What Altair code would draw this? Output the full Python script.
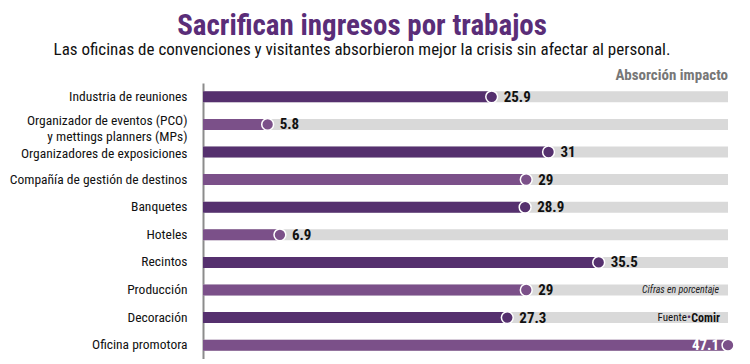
import altair as alt
import pandas as pd

categories = [
    "Industria de reuniones",
    "Organizador de eventos (PCO)|y mettings planners (MPs)",
    "Organizadores de exposiciones",
    "Compañía de gestión de destinos",
    "Banquetes",
    "Hoteles",
    "Recintos",
    "Producción",
    "Decoración",
    "Oficina promotora",
]
values = [25.9, 5.8, 31, 29, 28.9, 6.9, 35.5, 29, 27.3, 47.1]
shades = ["dark", "light", "dark", "light", "dark", "light", "dark", "light", "dark", "light"]

TITLE = "Sacrifican ingresos por trabajos"
SUBTITLE = "Las oficinas de convenciones y visitantes absorbieron mejor la crisis sin afectar al personal."

DARK = "#55306e"
LIGHT = "#7b5089"
GRAY = "#d9d9d9"
FONT = "Liberation Sans Narrow, Roboto Condensed, Open Sans Condensed, Roboto, sans-serif"

vmax = max(values)
df = pd.DataFrame({
    "cat": categories,
    "value": values,
    "shade": shades,
    "full": [vmax] * len(values),
    "label": [str(v) for v in values],
})
df["inside"] = df["value"] == vmax

xs = alt.Scale(domain=[0, vmax], nice=False, zero=True)
ys = alt.Scale(domain=categories, paddingInner=0.6, paddingOuter=0.3)
cs = alt.Scale(domain=["dark", "light"], range=[DARK, LIGHT])

label_offset = {
    "condition": [
        {"test": f"datum.value == '{categories[1]}'", "value": -3},
        {"test": f"datum.value == '{categories[2]}'", "value": 2},
    ],
    "value": 0,
}

base = alt.Chart(df)

bg = base.mark_bar(color=GRAY, size=11).encode(
    x=alt.X("full:Q", scale=xs, axis=None),
    y=alt.Y("cat:N", scale=ys, sort=categories, title=None,
            axis=alt.Axis(labelExpr="split(datum.label, '|')", labelFont=FONT,
                          labelFontSize=13.5, labelColor="#111", labelPadding=16,
                          labelLineHeight=15.5, labelOffset=label_offset,
                          ticks=False, domainColor="#8c8c8c",
                          domainWidth=2, labelLimit=300)),
)

bars = base.mark_bar(size=11).encode(
    x=alt.X("value:Q", scale=xs),
    y=alt.Y("cat:N", scale=ys, sort=categories),
    color=alt.Color("shade:N", scale=cs, legend=None),
)

dots = base.mark_circle(size=140, opacity=1, stroke="white", strokeWidth=1.5).encode(
    x=alt.X("value:Q", scale=xs),
    y=alt.Y("cat:N", scale=ys, sort=categories),
    color=alt.Color("shade:N", scale=cs, legend=None),
)

labels_out = base.transform_filter("!datum.inside").mark_text(
    align="left", dx=12, font=FONT, fontSize=15, fontWeight="bold", color="#111"
).encode(
    x=alt.X("value:Q", scale=xs),
    y=alt.Y("cat:N", scale=ys, sort=categories),
    text="label:N",
)

labels_in = base.transform_filter("datum.inside").mark_text(
    align="right", dx=-9, font=FONT, fontSize=15, fontWeight="bold", color="white"
).encode(
    x=alt.X("value:Q", scale=xs),
    y=alt.Y("cat:N", scale=ys, sort=categories),
    text="label:N",
)

title = alt.Chart(pd.DataFrame({"t": [TITLE]})).mark_text(
    align="center", baseline="alphabetic", font=FONT, fontSize=29, fontWeight="bold",
    color="#5a2d78"
).encode(x=alt.value(159), y=alt.value(-48), text="t:N")

subtitle = alt.Chart(pd.DataFrame({"t": [SUBTITLE]})).mark_text(
    align="center", baseline="alphabetic", font=FONT, fontSize=17, color="#111"
).encode(x=alt.value(159), y=alt.value(-28), text="t:N")

head = alt.Chart(pd.DataFrame({"t": ["Absorción impacto"]})).mark_text(
    align="right", baseline="alphabetic", font=FONT, fontSize=15, fontWeight="bold",
    color="#777"
).encode(x=alt.datum(vmax, scale=xs), y=alt.value(-3), text="t:N")

note1 = alt.Chart(pd.DataFrame({"t": ["Cifras en porcentaje"], "cat": [categories[7]]})).mark_text(
    align="right", dx=-9, font=FONT, fontSize=10, fontStyle="italic", color="#222"
).encode(x=alt.datum(vmax, scale=xs), y=alt.Y("cat:N", scale=ys, sort=categories), text="t:N")

note2 = alt.Chart(pd.DataFrame({"t": ["Comir"], "cat": [categories[8]]})).mark_text(
    align="right", dx=-8, font=FONT, fontSize=12, fontWeight="bold", color="#111"
).encode(x=alt.datum(vmax, scale=xs), y=alt.Y("cat:N", scale=ys, sort=categories), text="t:N")

note3 = alt.Chart(pd.DataFrame({"t": ["•"], "cat": [categories[8]]})).mark_text(
    align="right", dx=-37, font=FONT, fontSize=11, fontWeight="bold", color=DARK
).encode(x=alt.datum(vmax, scale=xs), y=alt.Y("cat:N", scale=ys, sort=categories), text="t:N")

note4 = alt.Chart(pd.DataFrame({"t": ["Fuente"], "cat": [categories[8]]})).mark_text(
    align="right", dx=-41, font=FONT, fontSize=11, color="#111"
).encode(x=alt.datum(vmax, scale=xs), y=alt.Y("cat:N", scale=ys, sort=categories), text="t:N")

chart = alt.layer(bg, bars, dots, labels_out, labels_in, title, subtitle, head,
                  note1, note2, note3, note4).properties(
    width=525,
    height=276,
    padding={"left": 195, "top": 75, "right": 14, "bottom": 0},
    autosize=alt.AutoSizeParams(type="none"),
).configure_view(stroke=None)

chart.save("out.html", embed_options={"renderer": "svg", "actions": False})
